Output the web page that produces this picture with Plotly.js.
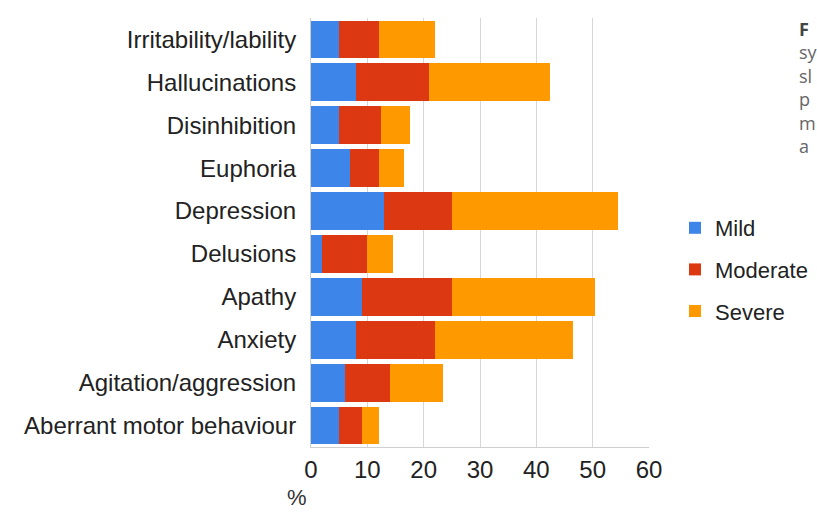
<!DOCTYPE html>
<html>
<head>
<meta charset="utf-8">
<script src="https://cdn.plot.ly/plotly-3.0.1.min.js"></script>
<style>html,body{margin:0;padding:0;background:#fff;} #chart{width:817px;height:527px;}</style>
</head>
<body>
<div id="chart"></div>
<script>
const categories = ["Irritability/lability","Hallucinations","Disinhibition","Euphoria","Depression","Delusions","Apathy","Anxiety","Agitation/aggression","Aberrant motor behaviour"];
const mild     = [5, 8, 5, 7, 13, 2, 9, 8, 6, 5];
const moderate = [7, 13, 7.5, 5, 12, 8, 16, 14, 8, 4];
const severe   = [10, 21.5, 5, 4.5, 29.5, 4.5, 25.5, 24.5, 9.5, 3];
const seriesNames = ["Mild","Moderate","Severe"];
const seriesColors = ["#3d85e8","#dc3912","#ff9900"];
const xTicks = [0,10,20,30,40,50,60];
const captionLetters = ["F","sy","sl","p","m","a"];

const W = 817, H = 527;
const L = 311, R = 168, T = 18, B = 80;
const pw = W - L - R, ph = H - T - B;
const px = x => (x - L) / pw;
const py = y => (H - B - y) / ph;

const data = [mild, moderate, severe].map((vals, i) => ({
  type: 'bar', orientation: 'h',
  x: vals, y: categories, name: seriesNames[i], legendgroup: seriesNames[i],
  marker: {color: seriesColors[i], line: {color: seriesColors[i], width: 0}},
  hoverinfo: 'x+y+name'
}));

const captionText = captionLetters.map((t, i) => i === 0 ? '<b><span style="color:#444">' + t + '</span></b>' : t).join('<br>');

const annotations = [
  {text: '%', xref: 'paper', yref: 'paper', x: px(297), y: py(497), xanchor: 'center', yanchor: 'middle',
   showarrow: false, font: {family: 'Liberation Sans, Arial, sans-serif', size: 22, color: '#333'}},
  {text: captionText, xref: 'paper', yref: 'paper', x: px(797), y: py(87), xanchor: 'left', yanchor: 'middle',
   align: 'left', showarrow: false, font: {family: 'Open Sans, sans-serif', size: 18, color: '#666'}}
];

const layout = {
  width: W, height: H,
  margin: {l: L, r: R, t: T, b: B, pad: 0, autoexpand: false},
  paper_bgcolor: '#fff', plot_bgcolor: '#fff',
  barmode: 'stack', bargap: 0.12,
  font: {family: 'Liberation Sans, Arial, sans-serif', color: '#222'},
  xaxis: {range: [0, 60], tickvals: xTicks, ticktext: xTicks.map(String),
    showgrid: true, gridcolor: '#d6d6d6', gridwidth: 1, zeroline: false,
    showline: true, linecolor: '#cfcfcf', ticks: '', ticklabelstandoff: 1,
    tickfont: {size: 24, color: '#222'}, fixedrange: true, automargin: false},
  yaxis: {autorange: 'reversed', type: 'category', ticks: '', showgrid: false,
    zeroline: false, showline: true, linecolor: '#cfcfcf', ticklabelstandoff: 9,
    tickfont: {size: 24, color: '#222'}, fixedrange: true, automargin: false},
  showlegend: true,
  legend: {x: px(675), y: py(207), xanchor: 'left', yanchor: 'top',
    font: {size: 22, color: '#222'}, tracegroupgap: 10, traceorder: 'grouped',
    bgcolor: 'rgba(0,0,0,0)', itemwidth: 30},
  annotations: annotations
};

Plotly.newPlot('chart', data, layout, {displayModeBar: false, staticPlot: true});
</script>
</body>
</html>
